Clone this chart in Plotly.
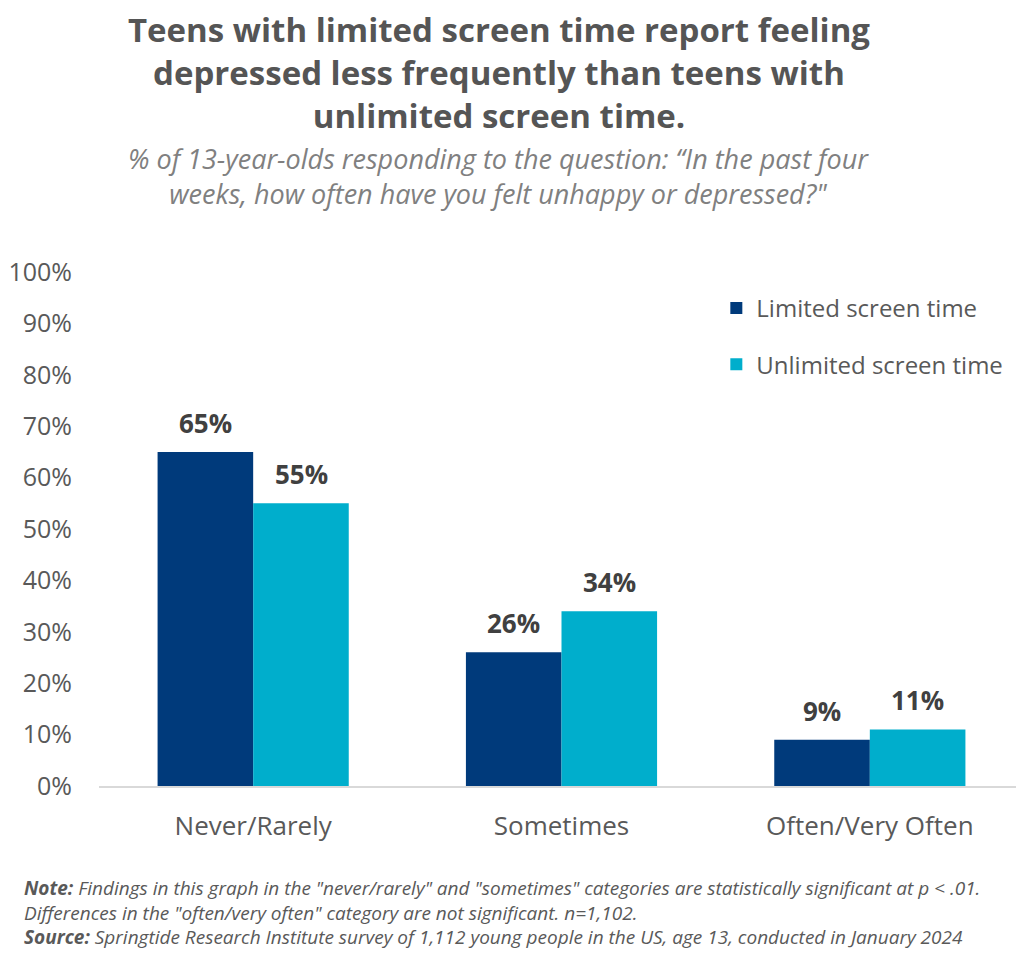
import plotly.graph_objects as go

# survey answers, % of 13-year-olds
categories = ["Never/Rarely", "Sometimes", "Often/Very Often"]
limited = [65, 26, 9]
unlimited = [55, 34, 11]
y_ticks = [0, 10, 20, 30, 40, 50, 60, 70, 80, 90, 100]
y_tick_labels = [str(v) + "%" for v in y_ticks]

navy = "#003A7B"
cyan = "#00AECC"
grey = "#595959"
font = "Open Sans"

W, H = 1016, 970
L, T, B = 87, 264, 192
PH = H - T - B  # plot height in px
PW = W - L

fig = go.Figure()
fig.add_trace(go.Bar(x=categories, y=limited, name="Limited screen time",
                     marker=dict(color=navy, line=dict(width=0)), legendgroup="a"))
fig.add_trace(go.Bar(x=categories, y=unlimited, name="Unlimited screen time",
                     marker=dict(color=cyan, line=dict(width=0)), legendgroup="b"))

# value labels above each bar
for vals, shift in [(limited, -48), (unlimited, 48)]:
    for c, v in zip(categories, vals):
        fig.add_annotation(x=c, y=v, text="<b>" + str(v) + "%</b>", xref="x", yref="y",
                           xshift=shift, yshift=9, yanchor="bottom", showarrow=False,
                           font=dict(family=font, size=26, color="#404040"))

fig.update_layout(
    width=W, height=H,
    margin=dict(l=L, r=0, t=T, b=B),
    paper_bgcolor="white", plot_bgcolor="white",
    barmode="group", bargap=0.38, bargroupgap=0,
    font=dict(family=font, color=grey),
    showlegend=True,
    legend=dict(x=620 / PW, y=1 - (278 - T) / PH, xanchor="left", yanchor="top",
                font=dict(family=font, size=24, color=grey),
                tracegroupgap=22, traceorder="grouped",
                itemwidth=30, bgcolor="rgba(0,0,0,0)"),
)
fig.update_xaxes(showgrid=False, showline=True, linecolor="#D9D9D9", linewidth=2,
                 ticks="", tickfont=dict(size=26, color=grey), ticklabelstandoff=16)
fig.update_yaxes(range=[0, 100], tickvals=y_ticks, ticktext=y_tick_labels,
                 showgrid=False, zeroline=False, showline=False, ticks="",
                 tickfont=dict(size=25, color=grey), ticklabelstandoff=26)

# title, subtitle, notes
fig.add_annotation(
    text="Teens with limited screen time report feeling<br>depressed less frequently than teens with<br>unlimited screen time.",
    xref="paper", yref="paper", x=(489 - L) / PW, y=1 + (T - 64) / PH,
    xanchor="center", yanchor="middle", showarrow=False, align="center",
    font=dict(family=font, size=33, color="#555555", weight="bold"))
fig.add_annotation(
    text="<i>% of 13-year-olds responding to the question: \u201cIn the past four<br>weeks, how often have you felt unhappy or depressed?\"</i>",
    xref="paper", yref="paper", x=(488 - L) / PW, y=1 + (T - 168) / PH,
    xanchor="center", yanchor="middle", showarrow=False, align="center",
    font=dict(family=font, size=27, color="#808080"))
fig.add_annotation(
    text="<b><i>Note:</i></b><i> Findings in this graph in the \"never/rarely\" and \"sometimes\" categories are statistically significant at p < .01.</i><br>"
         "<i>Differences in the \"often/very often\" category are not significant. n=1,102.</i><br>"
         "<b><i>Source:</i></b><i> Springtide Research Institute survey of 1,112 young people in the US, age 13, conducted in January 2024</i>",
    xref="paper", yref="paper", x=-(L - 10) / PW, y=-(904 - (T + PH)) / PH,
    xanchor="left", yanchor="middle", showarrow=False, align="left",
    font=dict(family=font, size=19, color=grey))

fig.write_html("out.html")
